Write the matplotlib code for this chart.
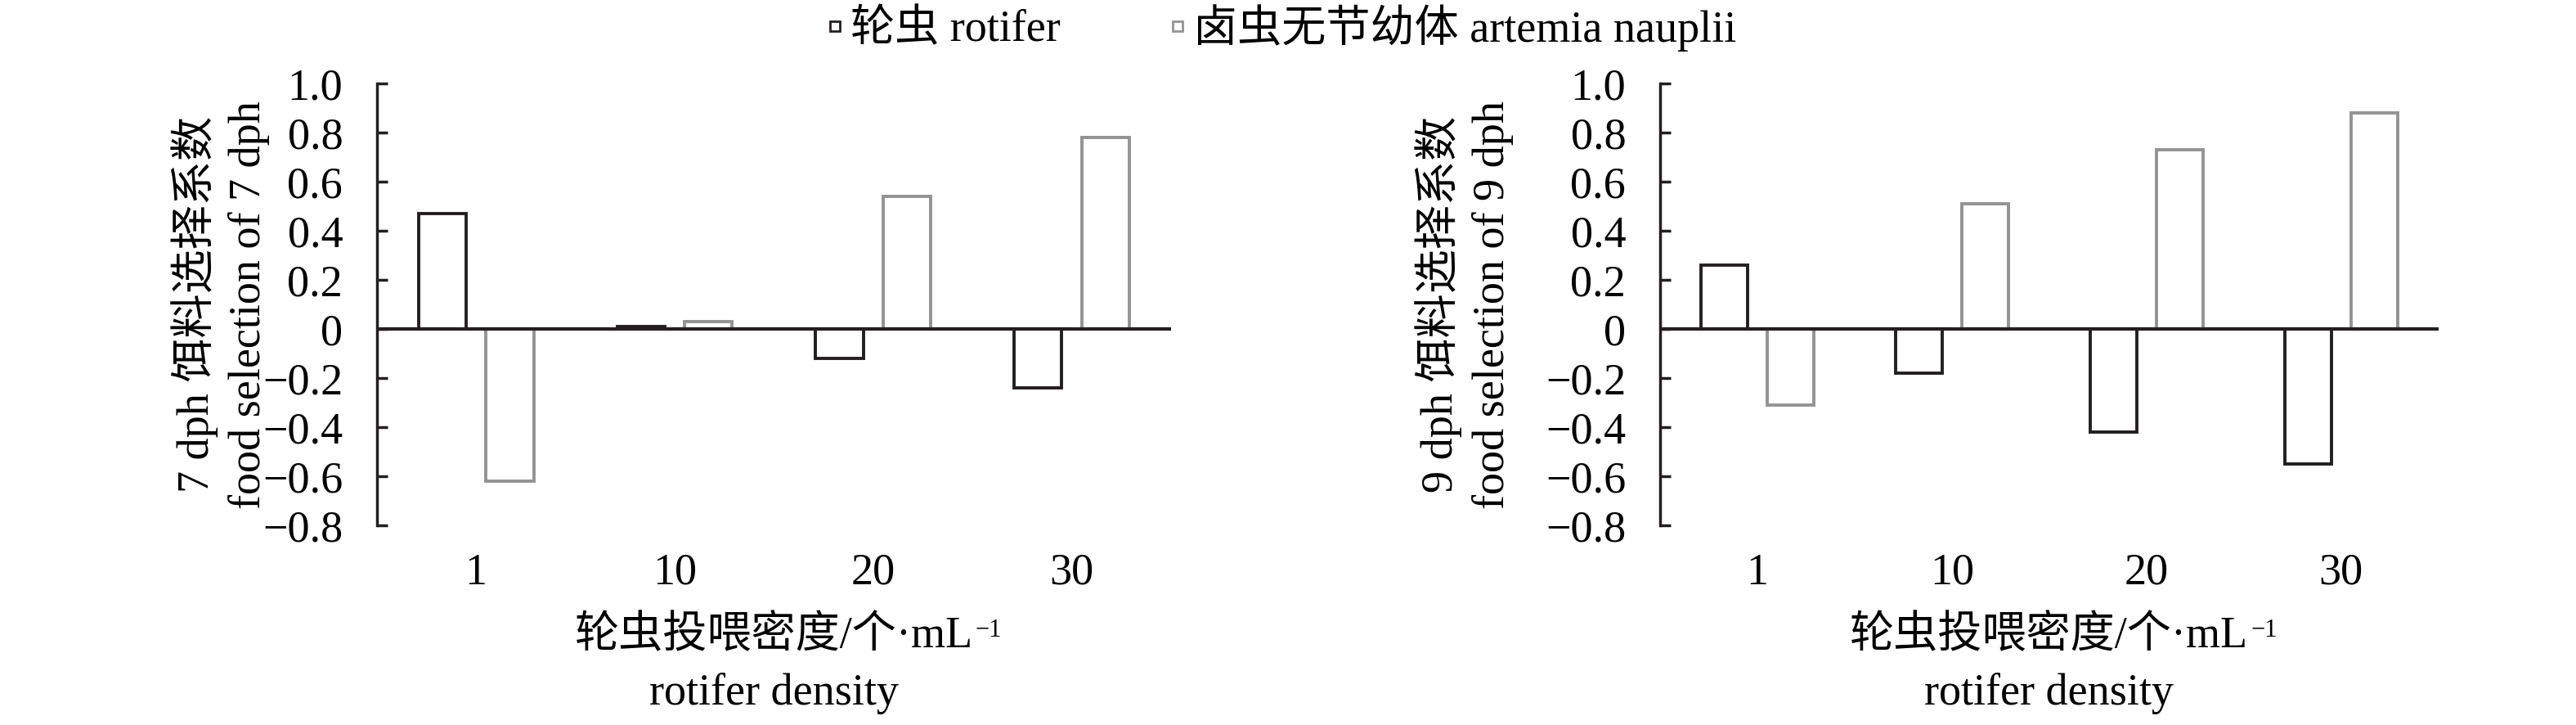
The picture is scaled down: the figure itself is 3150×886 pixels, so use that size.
import numpy as np
import matplotlib
matplotlib.use("Agg")
import matplotlib.pyplot as plt
from matplotlib.lines import Line2D

# --- data ---
densities = ['1', '10', '20', '30']
rotifer_7dph = [0.47, 0.01, -0.12, -0.24]
artemia_7dph = [-0.62, 0.03, 0.54, 0.78]
rotifer_9dph = [0.26, -0.18, -0.42, -0.55]
artemia_9dph = [-0.31, 0.51, 0.73, 0.88]
ytick_vals = [1.0, 0.8, 0.6, 0.4, 0.2, 0, -0.2, -0.4, -0.6, -0.8]
ytick_text = ['1.0', '0.8', '0.6', '0.4', '0.2', '0', '\u22120.2', '\u22120.4', '\u22120.6', '\u22120.8']

FONT = ['Liberation Serif', 'Noto Sans CJK SC', 'DejaVu Sans']
plt.rcParams['font.family'] = FONT
plt.rcParams['font.size'] = 39

DARK = '#231f20'
GREY = '#939393'

fig = plt.figure(figsize=(31.5, 8.86), dpi=100)
ax_left = fig.add_axes([0.1463, 0.2754, 0.3083, 0.6095])
ax_right = fig.add_axes([0.6444, 0.2754, 0.3022, 0.6095])


def draw_panel(ax, rot, art):
    x = np.arange(len(densities))
    ax.bar(x - 0.17, rot, width=0.24, facecolor='white', edgecolor=DARK, linewidth=2.8, zorder=2)
    ax.bar(x + 0.17, art, width=0.24, facecolor='white', edgecolor=GREY, linewidth=2.8, zorder=2)
    ax.axhline(0, color=DARK, linewidth=3, zorder=3)
    ax.set_xlim(-0.5, len(densities) - 0.5)
    ax.set_ylim(-0.8, 1.0)
    ax.set_yticks(ytick_vals)
    ax.set_yticklabels(ytick_text)
    ax.set_xticks(x)
    ax.set_xticklabels(densities)
    for s in ['top', 'right', 'bottom']:
        ax.spines[s].set_visible(False)
    ax.spines['left'].set_linewidth(2.5)
    ax.spines['left'].set_color(DARK)
    ax.tick_params(axis='y', direction='in', length=9, width=2.5, color=DARK, pad=30)
    ax.tick_params(axis='x', length=0, pad=24)
    t = ax.text(0.5, -0.252, '轮虫投喂密度/个·mL', transform=ax.transAxes,
                ha='center', va='center')
    ax.annotate('\u22121', xy=(1, 1), xycoords=t, xytext=(2, -2), textcoords='offset points',
                ha='left', va='top', fontsize=22)
    ax.text(0.5, -0.381, 'rotifer density', transform=ax.transAxes, ha='center', va='center')


draw_panel(ax_left, rotifer_7dph, artemia_7dph)
draw_panel(ax_right, rotifer_9dph, artemia_9dph)

fig.text(0.0855, 0.58, '7 dph 饵料选择系数\nfood selection of 7 dph', rotation=90,
         ha='center', va='center', multialignment='center', linespacing=1.3)
fig.text(0.5685, 0.58, '9 dph 饵料选择系数\nfood selection of 9 dph', rotation=90,
         ha='center', va='center', multialignment='center', linespacing=1.3)

handles = [
    Line2D([], [], linestyle='none', marker='s', markersize=9, markerfacecolor='white',
           markeredgecolor=DARK, markeredgewidth=2.0),
    Line2D([], [], linestyle='none', marker='s', markersize=9, markerfacecolor='white',
           markeredgecolor=GREY, markeredgewidth=2.0),
]
fig.legend(handles, ['轮虫 rotifer', '卤虫无节幼体 artemia nauplii'], loc='center',
           bbox_to_anchor=(0.497, 0.962), ncol=2, frameon=False, handlelength=0.5,
           handletextpad=0.1, columnspacing=2.4, borderpad=0)

fig.savefig('out.png', dpi=100)
